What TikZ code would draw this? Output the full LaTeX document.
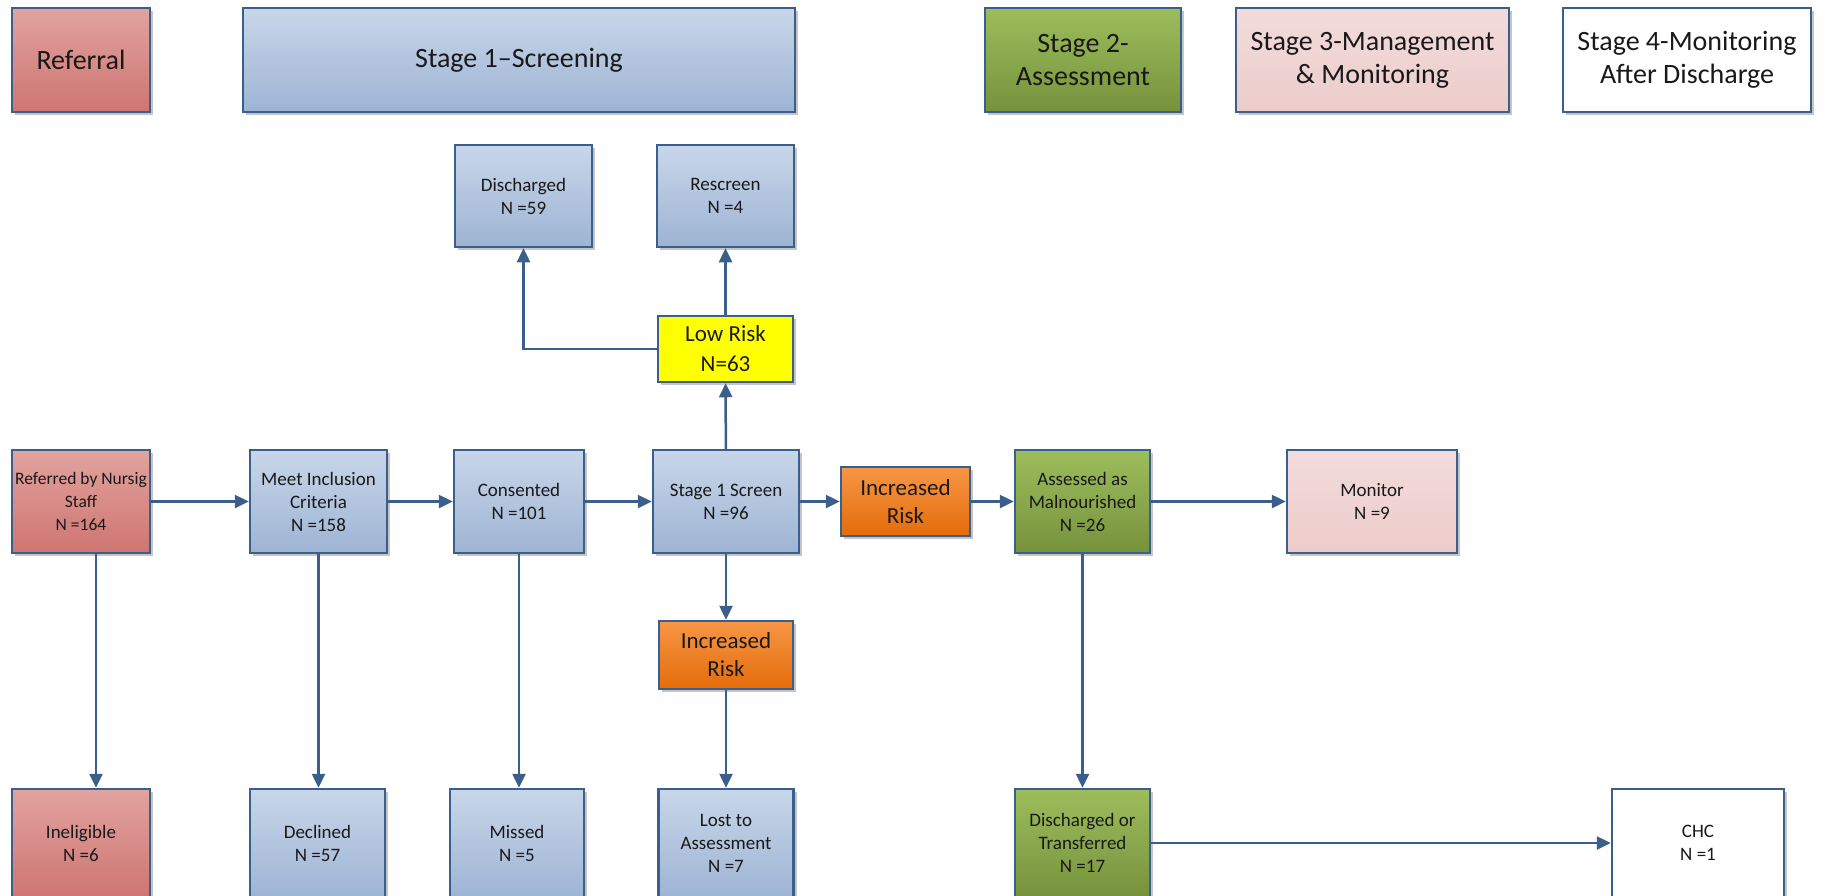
\documentclass[tikz,border=0pt]{standalone}
\usepackage{fontspec}
\setmainfont{Carlito}
\usetikzlibrary{arrows.meta,shadows}
\definecolor{bord}{HTML}{3A5F8B}
\definecolor{redT}{HTML}{E2A3A0}\definecolor{redB}{HTML}{CE7571}
\definecolor{bluT}{HTML}{C8D6E9}\definecolor{bluB}{HTML}{9EB4D4}
\definecolor{grnT}{HTML}{9DBD5C}\definecolor{grnB}{HTML}{76923C}
\definecolor{pnkT}{HTML}{F2DCDB}\definecolor{pnkB}{HTML}{ECCCCA}
\definecolor{orgT}{HTML}{F79646}\definecolor{orgB}{HTML}{E46C0A}
\definecolor{yel}{HTML}{FFFF00}
\tikzset{
 box/.style={draw=bord, line width=2.5pt, align=center, inner sep=2pt, text=black!90,
   drop shadow={shadow xshift=3pt, shadow yshift=-3pt, fill=black!45, opacity=.5}},
 redbox/.style={box, top color=redT, bottom color=redB},
 blubox/.style={box, top color=bluT, bottom color=bluB},
 grnbox/.style={box, top color=grnT, bottom color=grnB},
 pnkbox/.style={box, top color=pnkT, bottom color=pnkB},
 orgbox/.style={box, top color=orgT, bottom color=orgB, font=\fontsize{23}{28}\selectfont},
 yelbox/.style={box, fill=yel, font=\fontsize{23}{30}\selectfont},
 whtbox/.style={box, fill=white},
 head/.style={font=\fontsize{28}{33}\selectfont, minimum height=104pt},
 small/.style={font=\fontsize{19}{23}\selectfont},
 conn/.style={draw=bord, line width=2.5pt, -{Triangle[length=14pt,width=13pt]}},
}
\begin{document}
\begin{tikzpicture}[x=1pt,y=-1pt]
\useasboundingbox (0,0) rectangle (1834,895);
\clip (0,0) rectangle (1834,895);
% headers
\node[redbox, head, minimum width=138pt] (hRef) at (81,60) {Referral};
\node[blubox, head, minimum width=552pt] (hS1) at (519,60) {Stage 1--Screening};
\node[grnbox, head, minimum width=196pt] (hS2) at (1083,60) {Stage 2-\\Assessment};
\node[pnkbox, head, minimum width=273pt] (hS3) at (1372.5,60) {Stage 3-Management\\\& Monitoring};
\node[whtbox, head, minimum width=248pt] (hS4) at (1687,60) {Stage 4-Monitoring\\After Discharge};
% top row
\node[blubox, small, minimum width=137pt, minimum height=102pt] (dis) at (523.5,196) {Discharged\\N =59};
\node[blubox, small, minimum width=137pt, minimum height=102pt] (resc) at (725.5,196) {Rescreen\\N =4};
\node[yelbox, minimum width=135pt, minimum height=66pt] (low) at (725.5,349) {Low Risk\\N=63};
% middle row
\node[redbox, font=\fontsize{17.5}{23}\selectfont, inner sep=1pt, minimum width=138pt, minimum height=103pt] (ref) at (81,501.5) {Referred by Nursig\\Staff\\N =164};
\node[blubox, small, minimum width=137pt, minimum height=103pt] (meet) at (318.5,501.5) {Meet Inclusion\\Criteria\\N =158};
\node[blubox, small, minimum width=130pt, minimum height=103pt] (cons) at (519,501.5) {Consented\\N =101};
\node[blubox, small, minimum width=146pt, minimum height=103pt] (scr) at (726,501.5) {Stage 1 Screen\\N =96};
\node[orgbox, minimum width=129pt, minimum height=69pt] (incR) at (905.5,501.5) {Increased\\Risk};
\node[grnbox, small, minimum width=135pt, minimum height=103pt] (ass) at (1082.5,501.5) {Assessed as\\Malnourished\\N =26};
\node[pnkbox, small, minimum width=170pt, minimum height=103pt] (mon) at (1372,501.5) {Monitor\\N =9};
\node[orgbox, minimum width=134pt, minimum height=68pt] (incD) at (726,655) {Increased\\Risk};
% bottom row
\node[redbox, small, minimum width=138pt, minimum height=108pt] (inel) at (81,843) {Ineligible\\N =6};
\node[blubox, small, minimum width=135pt, minimum height=108pt] (decl) at (317.5,843) {Declined\\N =57};
\node[blubox, small, minimum width=134pt, minimum height=108pt] (miss) at (517,843) {Missed\\N =5};
\node[blubox, small, minimum width=135pt, minimum height=108pt] (lost) at (726,843) {Lost to\\Assessment\\N =7};
\node[grnbox, small, minimum width=135pt, minimum height=108pt] (dt) at (1082.5,843) {Discharged or\\Transferred\\N =17};
\node[whtbox, small, minimum width=172pt, minimum height=108pt] (chc) at (1698,843) {CHC\\N =1};
% connectors
\draw[conn] (ref) -- (meet);
\draw[conn] (meet) -- (cons);
\draw[conn] (cons) -- (scr);
\draw[conn] (scr) -- (incR);
\draw[conn] (incR) -- (ass);
\draw[conn] (ass) -- (mon);
\draw[conn] (dt) -- (chc);
\draw[conn] (scr) -- (low);
\draw[conn] (low) -- (resc);
\draw[conn] (low.west) -| (dis.south);
\draw[conn] (scr) -- (incD);
\draw[conn] (incD) -- (lost);
\draw[conn] ([xshift=15pt]ref.south) -- ([xshift=15pt]inel.north);
\draw[conn] (meet.south) -- (decl.north -| meet.south);
\draw[conn] (cons.south) -- (miss.north -| cons.south);
\draw[conn] (ass) -- (dt);
\end{tikzpicture}
\end{document}
